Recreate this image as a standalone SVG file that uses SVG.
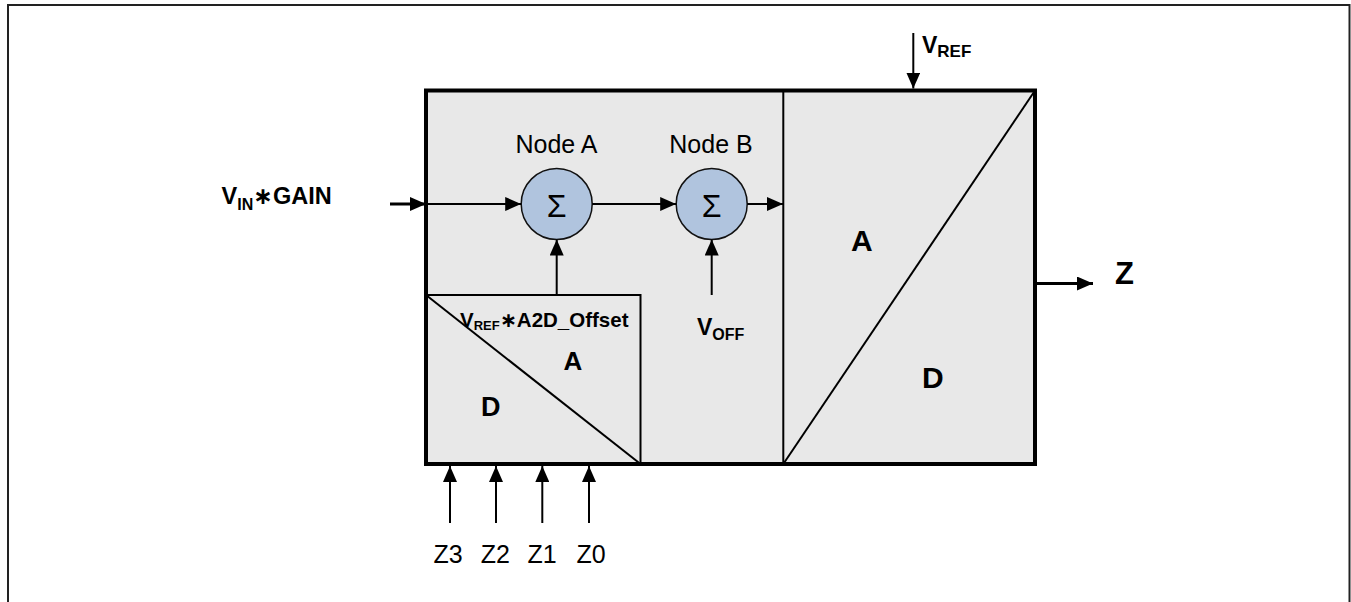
<svg xmlns="http://www.w3.org/2000/svg" width="1351" height="602" viewBox="0 0 1351 602">
<style>
  .b { font-family: "Liberation Sans", Arial, "DejaVu Sans", sans-serif; font-weight: bold; fill: #000; }
  .r { font-family: "Liberation Sans", Arial, "DejaVu Sans", sans-serif; fill: #000; }
  .ln { stroke: #000; stroke-width: 2; fill: none; }
  .thick { stroke: #000; stroke-width: 3; fill: none; }
  .sum { fill: #b0c4de; stroke: #111; stroke-width: 1.5; }
</style>
<defs>
  <marker id="ah" viewBox="0 0 16 14" refX="16" refY="7" markerWidth="16" markerHeight="14" markerUnits="userSpaceOnUse" orient="auto">
    <path d="M0,0 L16,7 L0,14 z" fill="#000"/>
  </marker>
</defs>
<rect x="0" y="0" width="1351" height="602" fill="#fff"/>
<rect x="8" y="5" width="1341.5" height="700" fill="none" stroke="#222" stroke-width="2"/>

<g id="adc-block">
  <rect x="426" y="90.5" width="609" height="373.5" fill="#e8e8e8"/>
  <line x1="783.3" y1="90.5" x2="783.3" y2="464" class="ln"/>
</g>

<g id="dac">
  <line x1="783.3" y1="464" x2="1035" y2="90.5" class="ln"/>
  <text x="851" y="251" class="b" font-size="30">A</text>
  <text x="922" y="388" class="b" font-size="30">D</text>
</g>

<g id="offset-dac">
  <rect x="426" y="295" width="214.5" height="169" fill="#e8e8e8" stroke="#000" stroke-width="2"/>
  <line x1="426" y1="295" x2="640.5" y2="464" class="ln"/>
  <text x="460" y="326.7" class="b" font-size="20.5">V<tspan font-size="13" dy="3">REF</tspan><tspan dy="-3">∗A2D_Offset</tspan></text>
  <text x="563.5" y="370" class="b" font-size="26">A</text>
  <text x="481" y="416" class="b" font-size="27">D</text>
</g>

<g id="node-a">
  <circle cx="556.7" cy="204" r="35.5" class="sum"/>
  <text x="556.7" y="216.5" class="r" font-size="32" text-anchor="middle">Σ</text>
  <text x="556.5" y="152.7" class="r" font-size="25" text-anchor="middle">Node A</text>
</g>

<g id="node-b">
  <circle cx="711.7" cy="204" r="35.5" class="sum"/>
  <text x="711.7" y="216.5" class="r" font-size="32" text-anchor="middle">Σ</text>
  <text x="711" y="152.7" class="r" font-size="25" text-anchor="middle">Node B</text>
</g>

<g id="outline">
  <rect x="426" y="90.5" width="609" height="373.5" fill="none" stroke="#000" stroke-width="4"/>
</g>

<g id="labels">
  <text x="221.5" y="204.3" class="b" font-size="23.5">V<tspan font-size="16" dy="6">IN</tspan><tspan dy="-6">∗GAIN</tspan></text>
  <text x="922" y="52.7" class="b" font-size="23">V<tspan font-size="17" dy="4.5">REF</tspan></text>
  <text x="697" y="335" class="b" font-size="23">V<tspan font-size="16" dy="5">OFF</tspan></text>
  <text x="1115" y="284" class="b" font-size="31">Z</text>
  <text x="448" y="563.3" class="r" font-size="25" text-anchor="middle">Z3</text>
  <text x="495.3" y="563.3" class="r" font-size="25" text-anchor="middle">Z2</text>
  <text x="542" y="563.3" class="r" font-size="25" text-anchor="middle">Z1</text>
  <text x="591" y="563.3" class="r" font-size="25" text-anchor="middle">Z0</text>
</g>

<g id="connectors">
  <line x1="390" y1="204" x2="426" y2="204" class="thick" marker-end="url(#ah)"/>
  <line x1="426" y1="204" x2="521.2" y2="204" class="ln" marker-end="url(#ah)"/>
  <line x1="592.2" y1="204" x2="676.2" y2="204" class="ln" marker-end="url(#ah)"/>
  <line x1="747.2" y1="204" x2="783" y2="204" class="ln" marker-end="url(#ah)"/>
  <line x1="556.7" y1="295" x2="556.7" y2="239.5" class="ln" marker-end="url(#ah)"/>
  <line x1="711.7" y1="295" x2="711.7" y2="239.5" class="ln" marker-end="url(#ah)"/>
  <line x1="913.3" y1="33" x2="913.3" y2="88.5" class="ln" marker-end="url(#ah)"/>
  <line x1="1037" y1="283.5" x2="1093" y2="283.5" class="thick" marker-end="url(#ah)"/>
  <line x1="450" y1="523" x2="450" y2="466" class="ln" marker-end="url(#ah)"/>
  <line x1="496" y1="523" x2="496" y2="466" class="ln" marker-end="url(#ah)"/>
  <line x1="542.3" y1="523" x2="542.3" y2="466" class="ln" marker-end="url(#ah)"/>
  <line x1="589" y1="523" x2="589" y2="466" class="ln" marker-end="url(#ah)"/>
</g>
</svg>
